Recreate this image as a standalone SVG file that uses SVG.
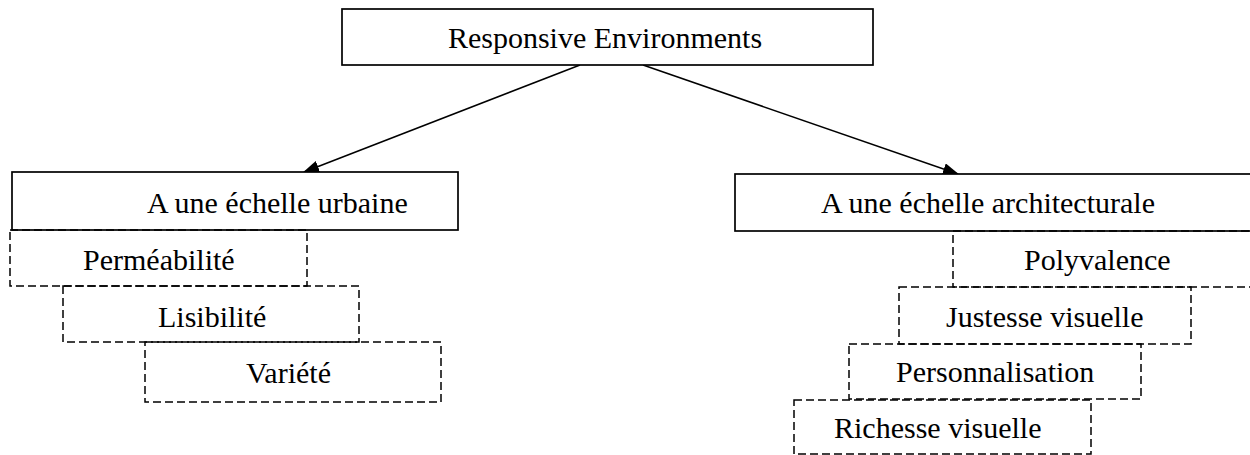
<svg xmlns="http://www.w3.org/2000/svg" width="1250" height="455" viewBox="0 0 1250 455">
<style>
  .solid { fill: #ffffff; stroke: #000000; stroke-width: 1.7; }
  .dash { fill: none; stroke: #000000; stroke-width: 1.5; stroke-dasharray: 8 4; }
  .t { font-family: "Liberation Serif", "Times New Roman", serif; font-size: 30px; fill: #000000; }
  .conn { stroke: #000000; stroke-width: 1.5; fill: none; marker-end: url(#arrow); }
</style>
<defs>
  <marker id="arrow" viewBox="0 0 16 12" refX="15" refY="6" markerWidth="16" markerHeight="12" markerUnits="userSpaceOnUse" orient="auto">
    <path d="M0,0 L16,6 L0,12 Z" fill="#000000"/>
  </marker>
</defs>
<rect width="1250" height="455" fill="#ffffff"/>

<g id="connectors">
  <line class="conn" x1="580" y1="65" x2="304" y2="172"/>
  <line class="conn" x1="643" y1="65" x2="958" y2="174"/>
</g>

<g id="root">
  <rect class="solid" x="342" y="9" width="531" height="56"/>
  <text class="t" x="605" y="48" text-anchor="middle">Responsive Environments</text>
</g>

<g id="urbaine">
  <rect class="solid" x="12" y="172" width="446" height="58"/>
  <text class="t" x="147" y="213">A une échelle urbaine</text>
</g>
<g id="permeabilite">
  <rect class="dash" x="10" y="230" width="297" height="56"/>
  <text class="t" x="83" y="270">Perméabilité</text>
</g>
<g id="lisibilite">
  <rect class="dash" x="63" y="286" width="296" height="56"/>
  <text class="t" x="158" y="327">Lisibilité</text>
</g>
<g id="variete">
  <rect class="dash" x="145" y="342" width="296" height="60"/>
  <text class="t" x="246" y="383">Variété</text>
</g>

<g id="architecturale">
  <rect class="solid" x="735" y="174" width="530" height="57"/>
  <text class="t" x="821" y="213">A une échelle architecturale</text>
</g>
<g id="polyvalence">
  <rect class="dash" x="953" y="231" width="310" height="56"/>
  <text class="t" x="1024" y="270">Polyvalence</text>
</g>
<g id="justesse">
  <rect class="dash" x="899" y="287" width="292" height="57"/>
  <text class="t" x="946" y="327">Justesse visuelle</text>
</g>
<g id="personnalisation">
  <rect class="dash" x="849" y="344" width="292" height="55"/>
  <text class="t" x="896" y="382">Personnalisation</text>
</g>
<g id="richesse">
  <rect class="dash" x="794" y="400" width="297" height="54"/>
  <text class="t" x="834" y="438">Richesse visuelle</text>
</g>
</svg>
